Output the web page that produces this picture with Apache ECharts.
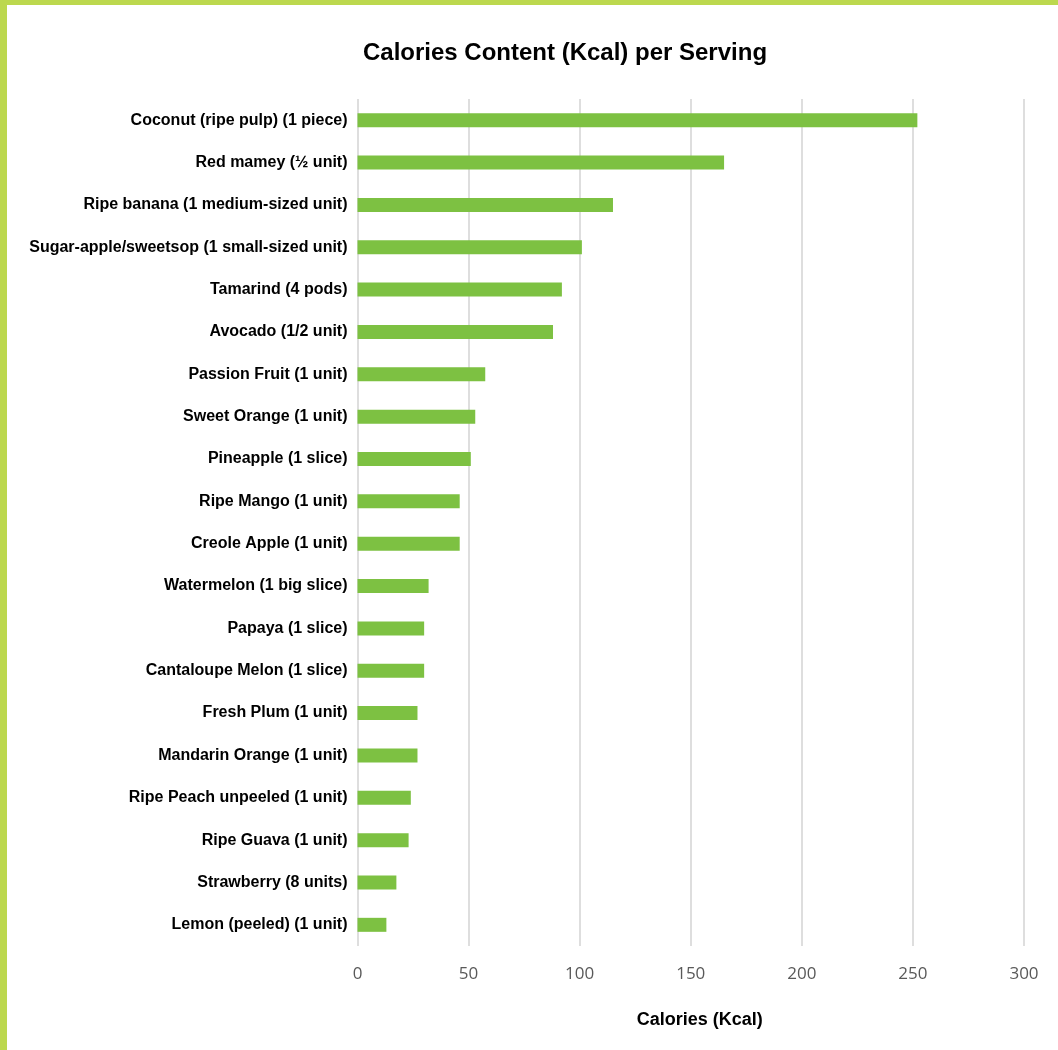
<!DOCTYPE html>
<html>
<head>
<meta charset="utf-8">
<title>Calories Content (Kcal) per Serving</title>
<script src="https://cdn.jsdelivr.net/npm/echarts@6/dist/echarts.min.js"></script>
<style>
  html, body { margin: 0; padding: 0; background: #ffffff; }
  #frame {
    position: absolute; left: 0; top: 0; width: 1058px; height: 1050px;
    box-sizing: border-box; border-left: 7px solid #bcd84e; border-top: 5px solid #bcd84e;
  }
  #chart { position: absolute; left: 0; top: 0; width: 1058px; height: 1050px; }
</style>
</head>
<body>
<div id="chart"></div>
<div id="frame"></div>
<script>
// Fruits, listed from highest to lowest calorie content per serving
const fruits = [
  'Coconut (ripe pulp) (1 piece)',
  'Red mamey (½ unit)',
  'Ripe banana (1 medium-sized unit)',
  'Sugar-apple/sweetsop (1 small-sized unit)',
  'Tamarind (4 pods)',
  'Avocado (1/2 unit)',
  'Passion Fruit (1 unit)',
  'Sweet Orange (1 unit)',
  'Pineapple (1 slice)',
  'Ripe Mango (1 unit)',
  'Creole Apple (1 unit)',
  'Watermelon (1 big slice)',
  'Papaya (1 slice)',
  'Cantaloupe Melon (1 slice)',
  'Fresh Plum (1 unit)',
  'Mandarin Orange (1 unit)',
  'Ripe Peach unpeeled (1 unit)',
  'Ripe Guava (1 unit)',
  'Strawberry (8 units)',
  'Lemon (peeled) (1 unit)'
];

// Kcal per serving, same order as fruits
const calories = [252, 165, 115, 101, 92, 88, 57.5, 53, 51, 46, 46, 32, 30, 30, 27, 27, 24, 23, 17.5, 13];

// Value axis ticks
const axisMin = 0;
const axisMax = 300;
const axisStep = 50;

const condensed = '"Liberation Sans Narrow", "Arial Narrow", "Liberation Sans", sans-serif';

const chart = echarts.init(document.getElementById('chart'), null, { renderer: 'canvas' });

chart.setOption({
  animation: false,
  backgroundColor: '#ffffff',
  title: {
    text: 'Calories Content (Kcal) per Serving',
    left: 560,
    top: 36,
    textAlign: 'center',
    textStyle: { fontFamily: condensed, fontWeight: 'bold', fontSize: 24, color: '#000000' }
  },
  grid: { left: 357.5, right: 34, top: 99, bottom: 104, containLabel: false },
  xAxis: {
    type: 'value',
    min: axisMin,
    max: axisMax,
    interval: axisStep,
    position: 'bottom',
    axisLine: { show: false },
    axisTick: { show: false },
    splitLine: { show: true, lineStyle: { color: '#dedede', width: 2 } },
    axisLabel: { margin: 20, fontFamily: '"Open Sans", sans-serif', fontSize: 17, color: '#595959' },
    name: 'Calories (Kcal)',
    nameLocation: 'middle',
    nameGap: 65,
    nameTextStyle: { fontFamily: condensed, fontWeight: 'bold', fontSize: 18, color: '#000000', padding: [0, 0, 0, 18] }
  },
  yAxis: {
    type: 'category',
    data: fruits,
    inverse: true,
    axisLine: { show: false },
    axisTick: { show: false },
    splitLine: { show: false },
    axisLabel: { margin: 10, fontFamily: condensed, fontWeight: 'bold', fontSize: 16, color: '#000000' }
  },
  series: [{
    type: 'bar',
    data: calories,
    barWidth: 14,
    itemStyle: { color: '#7dc142' },
    silent: true
  }]
});
</script>
</body>
</html>
